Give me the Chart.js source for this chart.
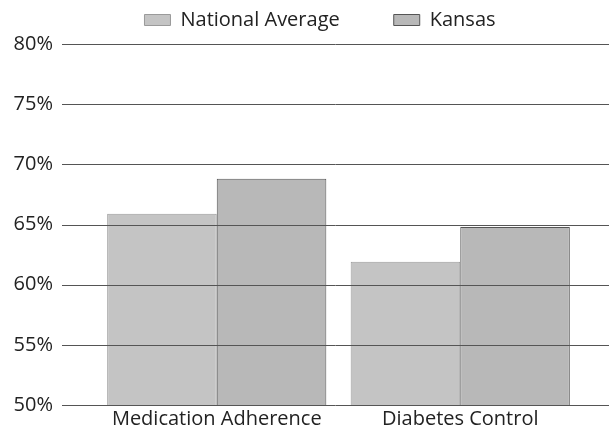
<!DOCTYPE html>
<html>
<head>
<meta charset="utf-8">
<script src="https://cdn.jsdelivr.net/npm/chart.js@4/dist/chart.umd.min.js"></script>
<style>
html,body{margin:0;padding:0;background:#fff;}
#wrap{width:609px;height:440px;}
</style>
</head>
<body>
<div id="wrap"><canvas id="c" width="609" height="440"></canvas></div>
<script>
const categories = ["Medication Adherence", "Diabetes Control"];
const nationalAverage = [65.9, 61.9];
const kansas = [68.8, 64.8];
const seriesNames = ["National Average", "Kansas"];
const yTicks = [50, 55, 60, 65, 70, 75, 80];

const FONT = "'Open Sans', 'DejaVu Sans', sans-serif";
const LEG_PAD = 54;
const LEG_H = 44;
const LEG_SHIFT_X = 24;
const LEG_SHIFT_Y = 44;

const layoutTweaks = {
  id: 'layoutTweaks',
  beforeLayout(chart) {
    const lg = chart.legend;
    if (lg && !lg._wrapped) {
      const orig = lg.fit.bind(lg);
      lg.fit = function () { orig(); this.height = LEG_H; };
      lg._wrapped = true;
    }
  },
  afterLayout(chart) {
    const lg = chart.legend;
    if (lg) {
      lg.top -= LEG_SHIFT_Y;
      lg.left += LEG_SHIFT_X; lg.right += LEG_SHIFT_X;
    }
  },
  afterDatasetsDraw(chart) {
    const y = chart.scales.y;
    const ctx = chart.ctx;
    ctx.save();
    ctx.strokeStyle = '#555';
    ctx.lineWidth = 1;
    yTicks.forEach(v => {
      const py = Math.round(y.getPixelForValue(v)) + 0.5;
      ctx.beginPath();
      ctx.moveTo(62, py);
      ctx.lineTo(chart.width, py);
      ctx.stroke();
    });
    ctx.restore();
  }
};

new Chart(document.getElementById('c'), {
  type: 'bar',
  data: {
    labels: categories,
    datasets: [
      {label: seriesNames[0], data: nationalAverage, backgroundColor: '#c4c4c4', borderColor: '#9a9a9a', borderWidth: 1},
      {label: seriesNames[1], data: kansas, backgroundColor: '#b8b8b8', borderColor: '#555', borderWidth: 1}
    ]
  },
  options: {
    responsive: false,
    animation: false,
    devicePixelRatio: 1,
    layout: {padding: {left: 10, right: 27, top: 0, bottom: 0}},
    datasets: {bar: {categoryPercentage: 0.9, barPercentage: 1.0}},
    plugins: {
      legend: {
        position: 'top',
        labels: {
          font: {family: FONT, size: 20},
          color: '#222',
          boxWidth: 26,
          boxHeight: 11,
          padding: LEG_PAD
        }
      },
      tooltip: {enabled: false}
    },
    scales: {
      x: {
        afterFit: s => { s.height = 35; },
        grid: {display: false},
        border: {display: false},
        ticks: {font: {family: FONT, size: 20}, color: '#222', padding: -6, maxRotation: 0}
      },
      y: {
        min: 50, max: 80,
        afterBuildTicks: s => { s.ticks = yTicks.map(v => ({value: v})); },
        afterFit: s => { s.width = 85; },
        grid: {display: false, tickLength: 42},
        border: {display: false},
        ticks: {font: {family: FONT, size: 20}, color: '#222', padding: 0, callback: v => v + '%'}
      }
    }
  },
  plugins: [layoutTweaks]
});
</script>
</body>
</html>
